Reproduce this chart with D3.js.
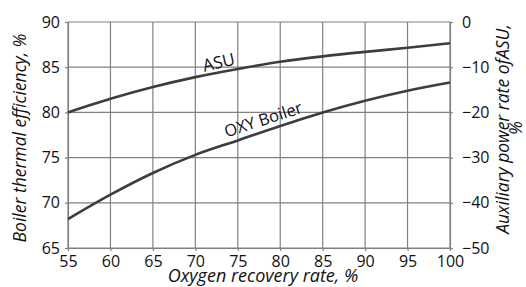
<!DOCTYPE html>
<html>
<head>
<meta charset="utf-8">
<script src="https://cdn.jsdelivr.net/npm/d3@7"></script>
<style>
  body { margin: 0; background: #fff; }
  text { font-family: "Open Sans", sans-serif; fill: #111; }
</style>
</head>
<body>
<div id="chart"></div>
<script>
const recovery = [55, 60, 65, 70, 75, 80, 85, 90, 95, 100];
const boilerEff = [68.2, 70.9, 73.3, 75.3, 76.9, 78.5, 80.0, 81.3, 82.4, 83.3];
const asuPower = [-20, -17, -14.4, -12.2, -10.4, -8.8, -7.6, -6.6, -5.7, -4.7];
const xTicks = [55, 60, 65, 70, 75, 80, 85, 90, 95, 100];
const leftTicks = [65, 70, 75, 80, 85, 90];
const rightTicks = [-50, -40, -30, -20, -10, 0];

const margin = {top: 22, left: 68, right: 76, bottom: 39},
      W = 526, H = 287,
      width = W - margin.left - margin.right,
      height = H - margin.top - margin.bottom;

const svg = d3.select('#chart').append('svg')
  .attr('width', W).attr('height', H);
const g = svg.append('g')
  .attr('transform', 'translate(' + margin.left + ',' + margin.top + ')');

const x = d3.scaleLinear().domain([55, 100]).range([0, width]);
const yL = d3.scaleLinear().domain([65, 90]).range([height, 0]);
const yR = d3.scaleLinear().domain([-50, 0]).range([height, 0]);

// grid
g.selectAll('.vgrid').data(xTicks).enter().append('line')
  .attr('x1', d => x(d)).attr('x2', d => x(d))
  .attr('y1', 0).attr('y2', height)
  .attr('stroke', '#808080').attr('stroke-width', 1.2);
g.selectAll('.hgrid').data(leftTicks).enter().append('line')
  .attr('x1', 0).attr('x2', width)
  .attr('y1', d => yL(d)).attr('y2', d => yL(d))
  .attr('stroke', '#808080').attr('stroke-width', 1.2);

const styleAxis = sel => {
  sel.select('.domain').attr('stroke', '#808080').attr('stroke-width', 1.2);
  sel.selectAll('.tick line').attr('stroke', '#808080').attr('stroke-width', 1.2);
  sel.selectAll('.tick text').style('font-size', '16px').attr('fill', '#111');
};

g.append('g')
  .attr('transform', 'translate(0,' + height + ')')
  .call(d3.axisBottom(x).tickValues(xTicks).tickSize(3).tickSizeOuter(0).tickPadding(5))
  .call(styleAxis);
g.append('g')
  .call(d3.axisLeft(yL).tickValues(leftTicks).tickSize(3).tickSizeOuter(0).tickPadding(5))
  .call(styleAxis);
g.append('g')
  .attr('transform', 'translate(' + width + ',0)')
  .call(d3.axisRight(yR).tickValues(rightTicks).tickSize(3).tickSizeOuter(0).tickPadding(9))
  .call(styleAxis);

// curves
const lineL = d3.line().x((d, i) => x(recovery[i])).y(d => yL(d)).curve(d3.curveMonotoneX);
const lineR = d3.line().x((d, i) => x(recovery[i])).y(d => yR(d)).curve(d3.curveMonotoneX);

g.append('path').datum(asuPower).attr('d', lineR)
  .attr('fill', 'none').attr('stroke', '#3d3d3d').attr('stroke-width', 2.6);
g.append('path').datum(boilerEff).attr('d', lineL)
  .attr('fill', 'none').attr('stroke', '#3d3d3d').attr('stroke-width', 2.6);

// curve labels
svg.append('text')
  .attr('transform', 'translate(220,68) rotate(-13)')
  .style('text-anchor', 'middle').style('font-size', '17px')
  .text('ASU');
svg.append('text')
  .attr('transform', 'translate(265,125) rotate(-18)')
  .style('text-anchor', 'middle').style('font-size', '16.5px')
  .text('OXY Boiler');

// axis titles
svg.append('text')
  .attr('x', 263).attr('y', 282)
  .style('text-anchor', 'middle').style('font-size', '18px').style('font-style', 'italic')
  .text('Oxygen recovery rate, %');
svg.append('text')
  .attr('transform', 'translate(26,138) rotate(-90)')
  .style('text-anchor', 'middle').style('font-size', '17.5px').style('font-style', 'italic')
  .text('Boiler thermal efficiency, %');
svg.append('text')
  .attr('transform', 'translate(509,129) rotate(-90)')
  .style('text-anchor', 'middle').style('font-size', '17.5px').style('font-style', 'italic')
  .text('Auxiliary power rate ofASU,');
svg.append('text')
  .attr('transform', 'translate(522,128) rotate(-90)')
  .style('text-anchor', 'middle').style('font-size', '17.5px').style('font-style', 'italic')
  .text('%');
</script>
</body>
</html>
